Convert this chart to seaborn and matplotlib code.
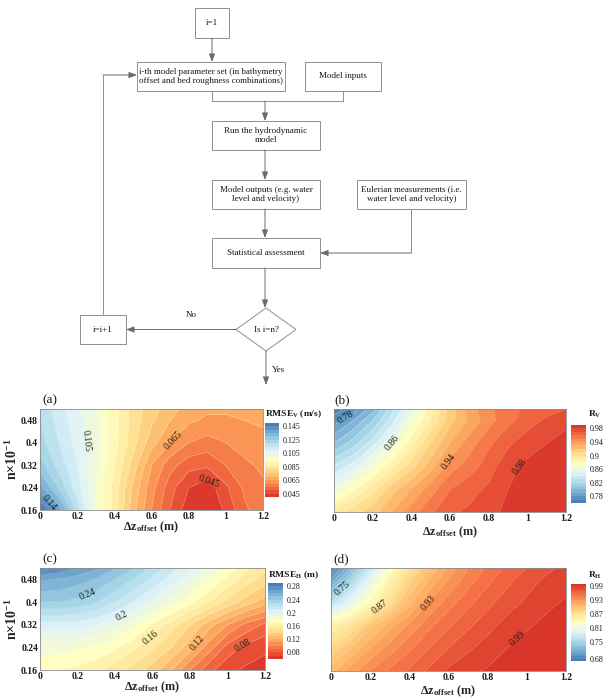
import numpy as np
import pandas as pd
import matplotlib
matplotlib.use("Agg")
import matplotlib.pyplot as plt
import seaborn as sns
from matplotlib.colors import LinearSegmentedColormap
from matplotlib.patches import Rectangle, Polygon

sns.set_theme(style="white")
plt.rcParams['font.family'] = ['Liberation Serif', 'DejaVu Serif']
plt.rcParams['mathtext.fontset'] = 'custom'
plt.rcParams['mathtext.rm'] = 'Liberation Serif'
plt.rcParams['mathtext.it'] = 'Liberation Serif:italic'
plt.rcParams['mathtext.bf'] = 'Liberation Serif:bold'

# ---------------- data ----------------
dz_offset = [0.0, 0.1, 0.2, 0.3, 0.4, 0.5, 0.6, 0.7, 0.8, 0.9, 1.0, 1.1, 1.2]
n_rough = [0.16, 0.24, 0.32, 0.40, 0.48, 0.52]

rmse_v = [
    [0.150, 0.138, 0.118, 0.100, 0.088, 0.072, 0.060, 0.050, 0.042, 0.040, 0.046, 0.054, 0.058],
    [0.137, 0.124, 0.112, 0.100, 0.088, 0.074, 0.062, 0.052, 0.045, 0.042, 0.049, 0.056, 0.059],
    [0.127, 0.118, 0.110, 0.101, 0.090, 0.078, 0.065, 0.057, 0.052, 0.051, 0.055, 0.059, 0.061],
    [0.122, 0.115, 0.108, 0.102, 0.092, 0.082, 0.072, 0.065, 0.060, 0.058, 0.060, 0.062, 0.063],
    [0.120, 0.113, 0.107, 0.101, 0.092, 0.083, 0.076, 0.070, 0.066, 0.064, 0.064, 0.065, 0.066],
    [0.119, 0.112, 0.106, 0.100, 0.092, 0.083, 0.077, 0.072, 0.068, 0.066, 0.066, 0.066, 0.067],
]
r_v = [
    [0.895, 0.905, 0.915, 0.930, 0.945, 0.958, 0.968, 0.972, 0.976, 0.983, 0.985, 0.987, 0.988],
    [0.860, 0.875, 0.895, 0.915, 0.930, 0.945, 0.960, 0.966, 0.972, 0.980, 0.983, 0.985, 0.986],
    [0.830, 0.845, 0.865, 0.885, 0.905, 0.925, 0.945, 0.955, 0.965, 0.977, 0.982, 0.984, 0.986],
    [0.800, 0.815, 0.835, 0.860, 0.885, 0.910, 0.930, 0.945, 0.958, 0.968, 0.976, 0.980, 0.983],
    [0.775, 0.790, 0.810, 0.835, 0.865, 0.890, 0.915, 0.932, 0.946, 0.957, 0.965, 0.972, 0.978],
    [0.765, 0.775, 0.795, 0.825, 0.855, 0.885, 0.915, 0.935, 0.948, 0.956, 0.962, 0.966, 0.970],
]
rmse_h = [
    [0.172, 0.170, 0.167, 0.162, 0.155, 0.146, 0.135, 0.120, 0.100, 0.083, 0.073, 0.068, 0.066],
    [0.185, 0.184, 0.182, 0.178, 0.172, 0.162, 0.152, 0.140, 0.124, 0.105, 0.086, 0.077, 0.072],
    [0.205, 0.206, 0.205, 0.200, 0.194, 0.182, 0.168, 0.155, 0.140, 0.124, 0.110, 0.097, 0.088],
    [0.240, 0.240, 0.237, 0.231, 0.220, 0.209, 0.198, 0.186, 0.174, 0.160, 0.147, 0.135, 0.125],
    [0.262, 0.259, 0.255, 0.249, 0.240, 0.229, 0.217, 0.205, 0.193, 0.180, 0.167, 0.155, 0.145],
    [0.285, 0.278, 0.270, 0.262, 0.251, 0.240, 0.227, 0.214, 0.201, 0.188, 0.175, 0.163, 0.152],
]
r_h = [
    [0.905, 0.925, 0.940, 0.952, 0.962, 0.972, 0.982, 0.988, 0.991, 0.993, 0.994, 0.995, 0.995],
    [0.880, 0.900, 0.920, 0.935, 0.948, 0.960, 0.970, 0.978, 0.985, 0.990, 0.993, 0.994, 0.995],
    [0.850, 0.870, 0.895, 0.915, 0.932, 0.947, 0.958, 0.968, 0.976, 0.984, 0.989, 0.992, 0.994],
    [0.760, 0.800, 0.840, 0.875, 0.905, 0.930, 0.945, 0.957, 0.967, 0.975, 0.982, 0.988, 0.991],
    [0.700, 0.745, 0.800, 0.850, 0.885, 0.910, 0.930, 0.945, 0.957, 0.967, 0.975, 0.982, 0.987],
    [0.680, 0.720, 0.775, 0.830, 0.870, 0.900, 0.922, 0.940, 0.952, 0.962, 0.970, 0.977, 0.983],
]

x_ticks = [0, 0.2, 0.4, 0.6, 0.8, 1, 1.2]
y_ticks = [0.16, 0.24, 0.32, 0.4, 0.48]
cticks_a = [0.045, 0.065, 0.085, 0.105, 0.125, 0.145]
cticks_b = [0.78, 0.82, 0.86, 0.9, 0.94, 0.98]
cticks_c = [0.08, 0.12, 0.16, 0.2, 0.24, 0.28]
cticks_d = [0.68, 0.75, 0.81, 0.87, 0.93, 0.99]
clabels_a = [0.14, 0.105, 0.065, 0.045]
clabels_b = [0.78, 0.86, 0.94, 0.98]
clabels_c = [0.24, 0.2, 0.16, 0.12, 0.08]
clabels_d = [0.75, 0.87, 0.93, 0.99]

# ---------------- figure ----------------
W, H = 612, 700
fig = plt.figure(figsize=(W / 100, H / 100), dpi=100)
fig.patch.set_facecolor('white')


def px_rect(x0, y0, x1, y1):
    return [x0 / W, 1 - y1 / H, (x1 - x0) / W, (y1 - y0) / H]


# ---------- flowchart ----------
flow = fig.add_axes([0, 0, 1, 1])
flow.set_xlim(0, W)
flow.set_ylim(H, 0)
flow.axis('off')
LC = '#8f8f8f'
TC = '#161616'


def fbox(x0, y0, x1, y1, text):
    flow.add_patch(Rectangle((x0, y0), x1 - x0, y1 - y0, fill=False, ec=LC, lw=0.7))
    flow.text((x0 + x1) / 2, (y0 + y1) / 2, text, ha='center', va='center',
              fontsize=6.5, color=TC, linespacing=1.3)


def fline(xs, ys):
    flow.plot(xs, ys, color=LC, lw=0.7, solid_capstyle='butt')


def farrow(p0, p1):
    flow.annotate('', xy=p1, xytext=p0,
                  arrowprops=dict(arrowstyle='-|>,head_length=0.4,head_width=0.15',
                                  color='#6a6a6a', lw=0.7, shrinkA=0, shrinkB=0))


fbox(195, 8, 229, 38, 'i=1')
fbox(137, 62, 285, 91, 'i-th model parameter set (in bathymetry\noffset and bed roughness combinations)')
fbox(305, 62, 381, 91, 'Model inputs')
fbox(212, 121, 320, 150, 'Run the hydrodynamic\nmodel')
fbox(212, 180, 320, 209, 'Model outputs (e.g. water\nlevel and velocity)')
fbox(357, 180, 466, 209, 'Eulerian measurements (i.e.\nwater level and velocity)')
fbox(212, 238, 320, 268, 'Statistical assessment')
fbox(80, 315, 126, 344, 'i=i+1')
flow.add_patch(Polygon([(236, 329.5), (266, 308), (296, 329.5), (266, 351)],
                       closed=True, fill=False, ec=LC, lw=0.7))
flow.text(266, 329.5, 'Is i=n?', ha='center', va='center', fontsize=6.5, color=TC)

farrow((212, 38), (212, 62))
fline([212, 212, 343, 343], [91, 101, 101, 91])
farrow((265, 101), (265, 121))
farrow((265, 150), (265, 180))
farrow((265, 209), (265, 238))
fline([411, 411], [209, 253])
farrow((411, 253), (320, 253))
farrow((265, 268), (265, 308))
farrow((236, 329.5), (126, 329.5))
fline([103, 103], [315, 75])
farrow((103, 75), (137, 75))
farrow((266, 351), (266, 385))
flow.text(191, 315, 'No', ha='center', va='center', fontsize=6.5, color=TC)
flow.text(272, 370, 'Yes', ha='left', va='center', fontsize=6.5, color=TC)

# ---------- contour panels ----------
pal = sns.color_palette("RdYlBu", 9)
cmap_rmse = LinearSegmentedColormap.from_list("rdylbu_mid", pal)
cmap_r = LinearSegmentedColormap.from_list("rdylbu_mid_r", pal[::-1])
LINE_RGBA = (1, 1, 1, 0.4)


def panel(Z, ax_box, cax_box, lev, cmap, cticks, ctitle, ctitle_xy,
          letter, letter_xy, labels, label_pos, show_y, xlabel_pad):
    df = pd.DataFrame(Z, index=n_rough, columns=dz_offset)
    X, Y = np.meshgrid(df.columns.values, df.index.values)
    ax = fig.add_axes(px_rect(*ax_box))
    cf = ax.contourf(X, Y, df.values, levels=lev, cmap=cmap, vmin=lev[0], vmax=lev[-1])
    plain = [l for l in lev if not any(np.isclose(l, v) for v in labels)]
    ax.contour(X, Y, df.values, levels=plain, colors=[LINE_RGBA], linewidths=0.35)
    for val, pos in zip(labels, label_pos):
        cl = ax.contour(X, Y, df.values, levels=[val], colors=[LINE_RGBA], linewidths=0.35)
        ax.clabel(cl, manual=[pos], fmt=lambda v: f"{v:g}",
                  fontsize=7, colors='#1a1a1a', inline=True, inline_spacing=1)
    ax.set_xlim(0, 1.2)
    ax.set_ylim(0.16, 0.52)
    ax.set_xticks(x_ticks)
    ax.set_xticklabels([f"{t:g}" for t in x_ticks], fontsize=7, fontweight='bold')
    ax.set_yticks(y_ticks)
    if show_y:
        ax.set_yticklabels([f"{t:g}" for t in y_ticks], fontsize=7, fontweight='bold')
        ax.set_ylabel('n×10$^{\\mathbf{-1}}$', fontsize=10, fontweight='bold', labelpad=1)
    else:
        ax.set_yticklabels([])
    ax.tick_params(length=0, pad=1.5, colors='#1a1a1a')
    ax.set_xlabel('Δz$_{\\mathbf{offset}}$ (m)', fontsize=8.8, fontweight='bold',
                  labelpad=xlabel_pad)
    for s in ax.spines.values():
        s.set_color('#8a8a8a')
        s.set_linewidth(0.6)
    cax = fig.add_axes(px_rect(*cax_box))
    cb = fig.colorbar(cf, cax=cax, ticks=cticks)
    cb.outline.set_visible(False)
    cb.ax.set_yticklabels([f"{t:g}" for t in cticks])
    cax.tick_params(length=0, pad=2.5, labelsize=5.8, colors='#1a1a1a')
    fig.text(ctitle_xy[0] / W, 1 - ctitle_xy[1] / H, ctitle, ha='left', va='center',
             fontsize=6.8, fontweight='bold', color='#1a1a1a')
    fig.text(letter_xy[0] / W, 1 - letter_xy[1] / H, letter, ha='left', va='center',
             fontsize=9.5, color='#1a1a1a')
    return ax


panel(rmse_v, (40, 409, 263, 510), (265, 423, 279, 497),
      np.round(np.arange(0.040, 0.1501, 0.005), 3), cmap_rmse, cticks_a,
      'RMSE$_{\\mathbf{V}}$ (m/s)', (265, 414), '(a)', (42, 400),
      clabels_a, [(0.05, 0.185), (0.28, 0.41), (0.70, 0.42), (0.92, 0.27)], True, -1.0)
panel(r_v, (334, 409, 566, 512), (571, 425, 586, 503),
      np.round(np.arange(0.76, 0.9901, 0.01), 2), cmap_r, cticks_b,
      'R$_{\\mathbf{V}}$', (588, 414), '(b)', (334, 400),
      clabels_b, [(0.06, 0.49), (0.35, 0.38), (0.56, 0.35), (0.96, 0.32)], False, 1.0)
panel(rmse_h, (40, 568, 265, 670), (268, 583, 283, 659),
      np.round(np.arange(0.06, 0.2901, 0.01), 2), cmap_rmse, cticks_c,
      'RMSE$_{\\mathbf{H}}$ (m)', (268, 575), '(c)', (42, 559),
      clabels_c, [(0.26, 0.42), (0.44, 0.345), (0.58, 0.28), (0.83, 0.26), (1.08, 0.25)], True, -1.0)
panel(r_h, (331, 568, 566, 671), (571, 584, 586, 661),
      np.round(np.arange(0.67, 1.0001, 0.01), 2), cmap_r, cticks_d,
      'R$_{\\mathbf{H}}$', (588, 575), '(d)', (333, 559),
      clabels_d, [(0.07, 0.44), (0.26, 0.376), (0.49, 0.40), (0.97, 0.26)], False, 1.0)

fig.savefig('out.png', dpi=100, facecolor='white')
